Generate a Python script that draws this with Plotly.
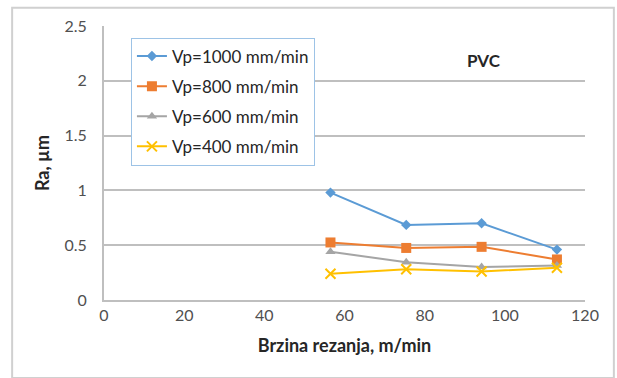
import plotly.graph_objects as go

speed = [56.5, 75.4, 94.2, 113.0]
ra_1000 = [0.98, 0.685, 0.70, 0.46]
ra_800 = [0.525, 0.475, 0.485, 0.37]
ra_600 = [0.44, 0.345, 0.30, 0.315]
ra_400 = [0.24, 0.28, 0.26, 0.295]

names = ["Vp=1000 mm/min", "Vp=800 mm/min", "Vp=600 mm/min", "Vp=400 mm/min"]
series = [ra_1000, ra_800, ra_600, ra_400]
colors = ["#5B9BD5", "#ED7D31", "#A5A5A5", "#FFC000"]
symbols = ["diamond", "square", "triangle-up", "x-thin"]
sizes = [8, 10, 9, 10]

FONT = "Lato"
fig = go.Figure()
for i, (n, y, c, s, sz) in enumerate(zip(names, series, colors, symbols, sizes)):
    marker = dict(symbol=s, size=sz, color=c)
    if s == "x-thin":
        marker["line"] = dict(color=c, width=2)
    fig.add_trace(go.Scatter(x=speed, y=y, name=n, mode="lines+markers",
                             line=dict(color=c, width=2), marker=marker,
                             legendgroup=f"g{i}"))

fig.update_layout(
    width=617, height=378,
    margin=dict(l=104, r=32, t=26, b=78),
    paper_bgcolor="white", plot_bgcolor="white",
    font=dict(family=FONT, color="#404040"),
    showlegend=True,
    legend=dict(x=0.056, y=0.958, xanchor="left", yanchor="top",
                bordercolor="#9DC3E6", borderwidth=1, bgcolor="white",
                font=dict(family=FONT, size=17, color="#262626"),
                traceorder="grouped", tracegroupgap=5, itemwidth=30),
    xaxis=dict(range=[0, 120], dtick=20, showgrid=False, showline=True,
               linecolor="#BFBFBF", linewidth=2, ticks="", zeroline=False,
               tickfont=dict(family=FONT, size=16, color="#505050"),
               title=dict(text="<b>Brzina rezanja, m/min</b>", standoff=16,
                          font=dict(family=FONT, size=18, color="#262626"))),
    yaxis=dict(range=[0, 2.5], dtick=0.5, showgrid=True, gridcolor="#BFBFBF",
               gridwidth=1.5, showline=True, linecolor="#BFBFBF", linewidth=2,
               ticks="", zeroline=False, ticklabelstandoff=12,
               tickfont=dict(family=FONT, size=16, color="#505050"),
               title=dict(text="<b>Ra, µm</b>", standoff=10,
                          font=dict(family=FONT, size=18, color="#262626"))),
    annotations=[dict(text="<b>PVC</b>", xref="paper", yref="paper",
                      x=0.83, y=0.918, showarrow=False,
                      font=dict(family=FONT, size=17, color="#262626"))],
    shapes=[dict(type="rect", xref="paper", yref="paper",
                 x0=-0.191, x1=1.060, y0=-0.285, y1=1.067,
                 line=dict(color="#D0D0D0", width=2), layer="below")],
)

fig.write_html("out.html")
